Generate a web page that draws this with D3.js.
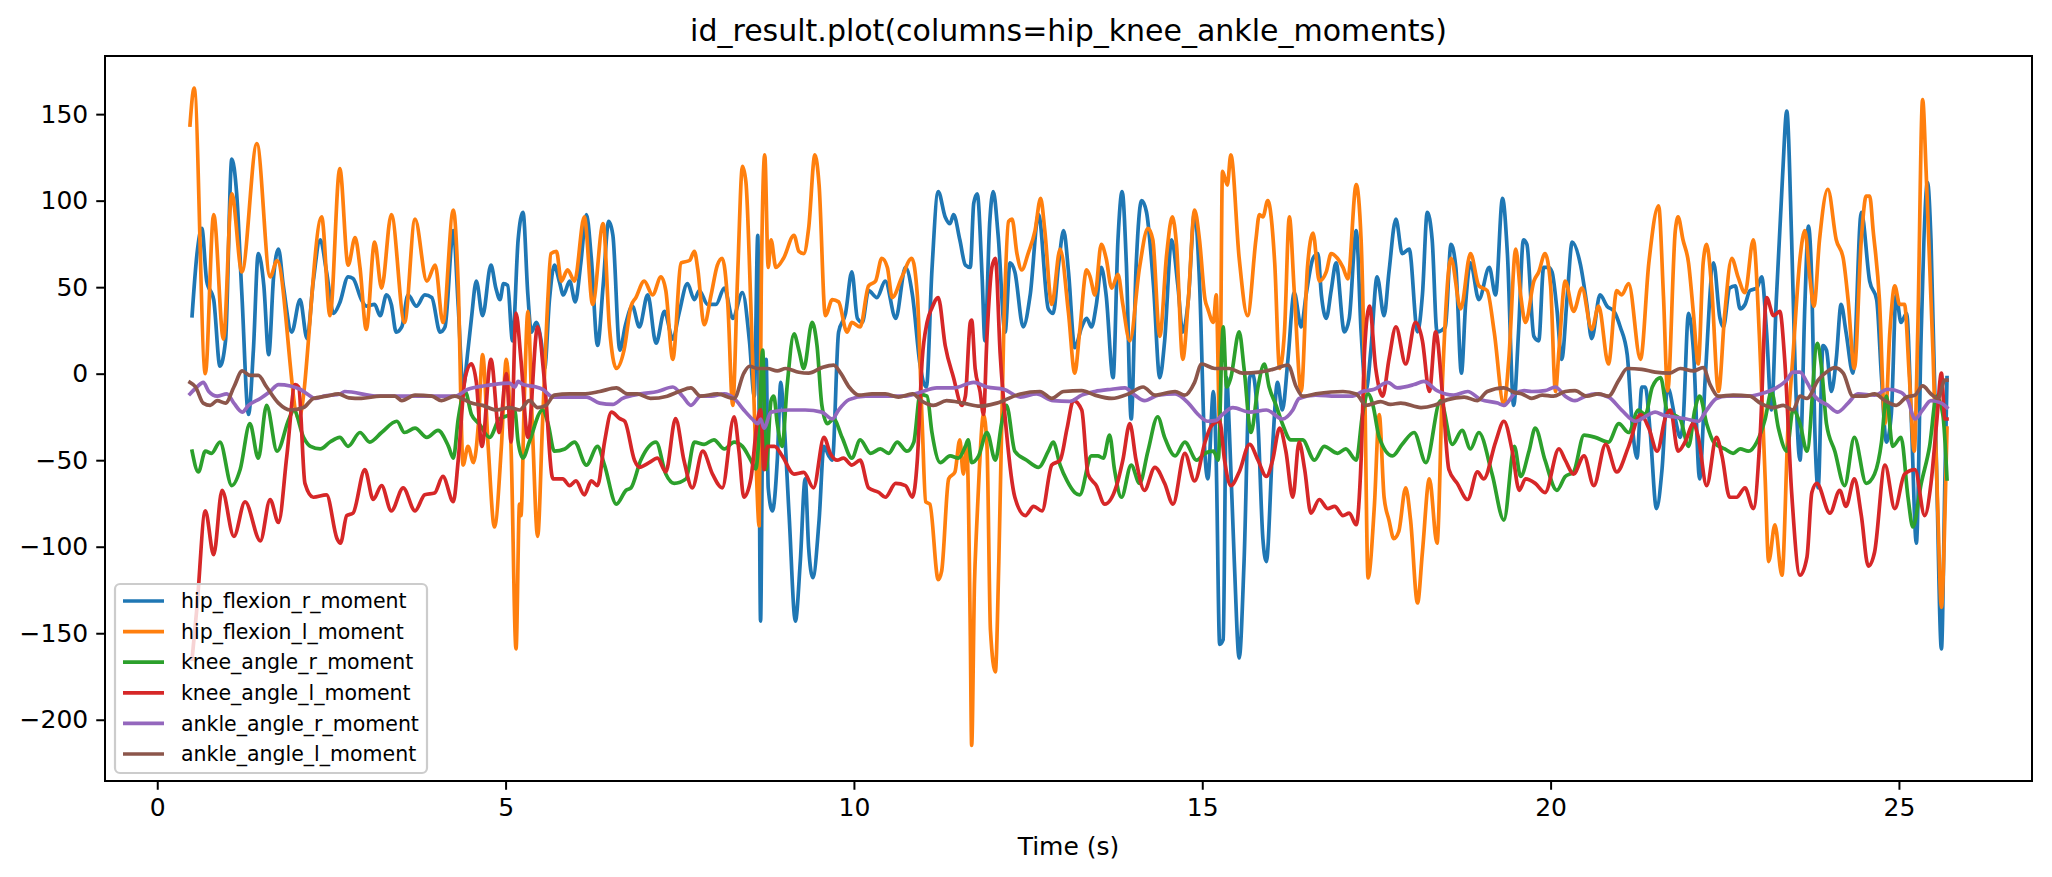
<!DOCTYPE html>
<html><head><meta charset="utf-8">
<style>body{margin:0;background:#fff}svg{display:block}text{font-family:"DejaVu Sans",sans-serif;fill:#000}</style>
</head><body>
<svg id="chart" width="2052" height="877"></svg>
<script src="https://cdn.jsdelivr.net/npm/d3@7"></script>
<script>
const titleText = "id_result.plot(columns=hip_knee_ankle_moments)";
const xLabel = "Time (s)";
const seriesNames = ["hip_flexion_r_moment","hip_flexion_l_moment","knee_angle_r_moment","knee_angle_l_moment","ankle_angle_r_moment","ankle_angle_l_moment"];
const seriesColors = ["#1f77b4","#ff7f0e","#2ca02c","#d62728","#9467bd","#8c564b"];
const xTicks = [0,5,10,15,20,25];
const yTicks = [-200,-150,-100,-50,0,50,100,150];

// [time (s), moment]
const hipFlexionR = [[0.50,33.5],[0.57,69],[0.64,84],[0.71,53.5],[0.81,42.8],[0.90,4.3],[0.98,19],[1.07,124],[1.14,104],[1.215,45.5],[1.31,-23.6],[1.38,13.6],[1.45,69.4],[1.53,50.8],[1.60,11],[1.67,56],[1.74,72],[1.81,50.8],[1.93,24],[2.05,42.8],[2.15,20.3],[2.24,53.5],[2.34,77.4],[2.43,58.8],[2.53,34.9],
[2.62,41],[2.74,56],[2.81,55],[2.93,42.8],[3.0,39],[3.12,40],[3.20,33.5],[3.29,45.5],[3.36,40],[3.43,24],[3.51,27],[3.60,45.5],[3.72,39],[3.84,45.5],[3.94,44],[4.06,24],[4.13,27],[4.25,82.7],[4.32,39],[4.39,-7.7],[4.46,13.6],[4.51,32],
[4.58,53.5],[4.67,33.5],[4.79,62.7],[4.86,49.5],[4.92,42.8],[4.97,52],[5.03,51],[5.10,19],[5.18,77.4],[5.25,93.3],[5.32,45.5],[5.37,24],[5.44,29.6],[5.51,19],[5.56,3],[5.63,42.8],[5.70,62.7],[5.77,53.5],[5.83,45.5],[5.92,53.5],[6.0,41.5],[6.08,64],[6.16,92],[6.23,67],[6.32,16.3],[6.40,50.8],[6.48,88],[6.54,80],[6.64,13.6],
[6.72,28],[6.82,39],[6.92,27],[7.04,45.5],[7.16,17.6],[7.28,36],[7.40,20],[7.49,34.9],[7.61,52],[7.71,42.8],[7.78,48],[7.90,40],[8.02,40],[8.14,49.5],[8.26,32],[8.40,46.8],[8.50,19],[8.57,-13],[8.62,80],[8.66,-143],[8.69,-28.9],[8.74,8.3],[8.77,-66],[8.83,-79.3],[8.90,-50],
[8.95,-5],[8.99,-23.6],[9.07,-82],[9.16,-143],[9.23,-108.6],[9.30,-60.8],[9.35,-100.6],[9.41,-117.9],[9.50,-84.6],[9.57,-42],[9.64,-47.5],[9.69,-50],[9.78,24],[9.88,34.9],[9.97,58.8],[10.05,32],[10.12,29.6],[10.21,48],[10.33,44],[10.45,53.5],[10.60,32],[10.74,61.4],[10.84,45.5],[10.95,5],[11.04,-7.7],[11.12,60],
[11.21,105.3],[11.31,90.6],[11.38,86.7],[11.43,92],[11.52,77.4],[11.60,62.7],[11.67,61.4],[11.72,98.6],[11.77,104],[11.84,56],[11.88,19],[11.95,88],[12.0,105.3],[12.07,80],[12.17,24],[12.24,64],[12.31,58.8],[12.43,27],[12.53,45.5],[12.65,92],[12.79,37.5],[12.86,34.9],[12.94,64],[13.01,82.7],[13.08,58.8],[13.17,15],
[13.27,27],[13.34,32],[13.41,27],[13.48,40],[13.55,61.4],[13.62,45.5],[13.72,-2.3],[13.79,77.4],[13.85,105.3],[13.91,64],[13.98,-26.2],[14.05,61.4],[14.13,100],[14.20,93.3],[14.30,50.8],[14.39,-2.3],[14.46,19],[14.56,77.4],[14.65,50.8],[14.72,24],[14.80,42.8],[14.89,93.3],[14.96,53.5],[15.04,-47.5],[15.08,-60.8],[15.16,-10.3],[15.20,-50],[15.25,-156.4],[15.30,-153.7],[15.35,-2.3],
[15.39,-34],[15.46,-108.6],[15.53,-164.3],[15.60,-108.6],[15.68,-2.3],[15.72,0.3],[15.80,-28.9],[15.87,-95.3],[15.92,-108.6],[16.01,-42],[16.08,-5],[16.15,-21],[16.23,8.3],[16.32,46.8],[16.42,27],[16.49,45.5],[16.59,66.7],[16.66,69.4],[16.71,45.5],[16.78,32],[16.85,48],[16.92,64],[17.04,24.2],[17.11,32],[17.21,82.7],[17.28,24.2],[17.35,-10],
[17.42,13.6],[17.51,56],[17.61,33.5],[17.68,58.8],[17.78,89.3],[17.87,69.4],[17.97,72],[18.09,24.2],[18.16,45.5],[18.23,93.3],[18.30,77.4],[18.37,24.2],[18.49,27],[18.57,74.7],[18.64,61.4],[18.72,0.3],[18.78,40],[18.85,64],[18.97,42.8],[19.12,61.4],[19.21,45.5],[19.31,101.3],[19.38,69.4],[19.47,-18.3],[19.54,24.2],
[19.61,77.4],[19.66,74.7],[19.76,21.6],[19.83,19],[19.90,61.4],[19.97,61.4],[20.02,58.8],[20.09,37.5],[20.16,8.3],[20.24,45.5],[20.31,76],[20.43,62.7],[20.52,40],[20.59,20.3],[20.71,45.5],[20.81,39],[20.91,36],[21.0,27],[21.10,11],[21.17,-28.9],[21.24,-48.8],[21.31,-7.7],[21.36,-7.7],[21.43,-34],[21.52,-78],[21.60,-55],[21.68,-8],
[21.79,-26.2],[21.86,-36.8],[21.90,-28.9],[21.98,34.9],[22.05,13.6],[22.14,-60.8],[22.22,-2.3],[22.34,64],[22.43,32.2],[22.48,27],[22.57,49.5],[22.65,50.8],[22.72,37.5],[22.79,40],[22.86,48],[22.96,49.5],[23.03,56],[23.10,24.2],[23.17,-21],[23.24,42.8],[23.33,114.5],[23.39,151.7],[23.46,77.4],[23.51,3],[23.58,-50],[23.65,40],[23.70,85.3],[23.75,50.8],[23.79,-28.9],[23.84,-66],
[23.91,16.3],[23.96,13.6],[24.03,-10.3],[24.10,8.3],[24.17,40],[24.24,24.2],[24.34,0.3],[24.46,93.3],[24.58,53.5],[24.68,42.8],[24.75,-2.3],[24.82,-39.5],[24.89,-23.6],[24.96,45.5],[25.03,29.6],[25.11,34.9],[25.18,-28.9],[25.25,-98],[25.32,24.2],[25.41,110.6],[25.46,77.4],[25.54,-55.4],[25.61,-159],[25.66,-60.8],[25.69,-2.3]];

const hipFlexionL = [[0.47,143.7],[0.53,165],[0.69,0],[0.81,92],[0.95,20],[1.07,104],[1.215,58.8],[1.43,133],[1.62,56],[1.72,65.4],[2.03,-26],[2.36,90.6],[2.48,33.5],
[2.62,118.5],[2.74,62.7],[2.84,78.7],[2.91,61.4],[3.0,25.6],[3.12,76],[3.22,49.5],[3.36,92],[3.55,29.6],[3.70,89.3],[3.87,53.5],[3.99,62.7],[4.10,29.6],[4.25,94.6],[4.32,51],[4.39,-52.8],[4.46,-42],[4.54,-51.4],[4.61,-29],[4.67,11],
[4.75,-42],[4.84,-88.6],[4.94,-42],[5.01,8.3],[5.08,-44.8],[5.15,-159],[5.20,-75.4],[5.22,-82],[5.27,-13],[5.32,36],[5.39,-36.8],[5.46,-94],[5.53,-28.9],[5.61,45.5],[5.65,69.4],[5.73,70.7],[5.80,53.5],[5.89,60],[5.99,53.5],[6.13,90.6],[6.25,40],[6.40,86.7],[6.49,27],[6.59,3],
[6.70,13.6],[6.80,39],[6.87,44],[6.99,53.5],[7.11,45.5],[7.23,56],[7.30,48],[7.40,8.3],[7.52,64],[7.64,65.4],[7.71,70.7],[7.76,60],[7.85,28.3],[7.95,45.5],[8.04,62.7],[8.11,66.7],[8.19,40],[8.26,-18.3],[8.33,56],[8.40,119.8],[8.45,110.6],[8.52,40],[8.59,-44.8],[8.64,-88],[8.67,51],[8.72,126.5],[8.77,61.4],[8.81,77.4],[8.88,61.4],
[8.99,66.7],[9.14,80],[9.21,70.7],[9.28,69.4],[9.35,84],[9.44,126.5],[9.50,109],[9.59,33.5],[9.69,42.8],[9.78,41.5],[9.90,24],[9.97,29.6],[10.09,27],[10.21,50.8],[10.31,53.5],[10.40,66.7],[10.48,61.4],[10.55,44],[10.69,56],[10.83,66.7],[10.91,45.5],[10.98,-28.9],[11.03,-74],
[11.09,-75.4],[11.21,-119],[11.26,-113.9],[11.36,-60.8],[11.45,-56.8],[11.52,-38.2],[11.57,-58],[11.62,-42],[11.67,-148.4],[11.69,-214.8],[11.73,-121.8],[11.76,-90],[11.80,-55.4],[11.86,-23.6],[11.91,-42],[11.96,-148.4],[12.03,-172.3],[12.08,-108.6],[12.15,24],[12.22,88],[12.27,89.3],[12.34,69.4],[12.41,60],[12.50,69.4],[12.60,82.7],[12.68,101.3],[12.74,82.7],[12.84,40],[12.96,72],[13.08,35],[13.17,0.3],
[13.24,24.2],[13.34,60],[13.39,56],[13.46,45.5],[13.55,74.7],[13.62,66.7],[13.70,49.5],[13.79,57.4],[13.86,40],[13.96,19],[14.10,61.4],[14.22,84],[14.29,77.4],[14.39,21.6],[14.49,69.4],[14.57,90.6],[14.63,74.7],[14.72,8.3],[14.80,42.8],[14.89,94.6],[14.96,77.4],[15.04,42.8],[15.08,37.5],[15.16,29.6],[15.20,45.5],[15.25,-30],[15.29,117],[15.36,109],[15.41,126.5],
[15.53,66.7],[15.65,33.5],[15.77,77.4],[15.82,92],[15.87,90.6],[15.94,100],[16.04,64],[16.11,3],[16.18,24.2],[16.25,90.6],[16.32,48],[16.42,-10.3],[16.51,61.4],[16.59,81.3],[16.68,53.5],[16.78,58.8],[16.85,69.4],[16.94,66.7],[17.02,61.4],[17.09,54.8],[17.21,109.3],[17.28,77.4],[17.33,-2.3],[17.38,-118],
[17.47,-76.7],[17.54,-23.6],[17.61,-71.4],[17.68,-84.6],[17.75,-95.3],[17.82,-91.3],[17.92,-66],[17.99,-84.6],[18.09,-132.5],[18.16,-103.2],[18.26,-60.8],[18.37,-98],[18.45,-2.3],[18.57,66.7],[18.71,37.5],[18.85,69.4],[18.97,50.8],[19.09,48],[19.19,24.2],[19.33,-18.3],[19.40,8.3],[19.50,72],
[19.57,45.5],[19.64,29.6],[19.76,53.5],[19.83,58.8],[19.92,69.4],[20.0,50.8],[20.07,-10.3],[20.12,13.6],[20.21,53.5],[20.33,36],[20.45,49.5],[20.59,25.6],[20.69,39],[20.83,5.6],[20.95,48],[21.02,45.5],[21.12,52],[21.29,8.3],[21.41,64],[21.55,97],[21.62,45],[21.68,-10],
[21.79,82.7],[21.83,90.6],[21.90,77.4],[21.98,64],[22.05,34.9],[22.12,5.6],[22.19,64],[22.24,74.7],[22.31,50.8],[22.41,-10.3],[22.50,34.9],[22.60,66.7],[22.69,56],[22.79,46.8],[22.91,77.4],[23.0,19],[23.08,-60.8],[23.13,-108.6],[23.22,-87.3],[23.32,-116.5],[23.41,-28.9],[23.48,11],[23.58,66.7],[23.65,82.7],[23.72,56],[23.78,39],
[23.86,77.4],[23.98,106.6],[24.10,77.4],[24.20,66.7],[24.27,42.8],[24.36,3],[24.46,77.4],[24.53,102.6],[24.58,102.6],[24.63,82.7],[24.72,42.8],[24.80,-28.9],[24.87,24.2],[24.94,50.8],[25.01,40],[25.08,40],[25.15,-2.3],[25.22,-44.8],[25.27,24.2],[25.34,158.4],[25.39,117.2],[25.49,11],[25.56,-82],[25.61,-135],[25.66,-82],[25.69,-31.5]];

const kneeAngleR = [[0.50,-44.8],[0.59,-56.8],[0.69,-44.8],[0.78,-46],[0.90,-39.5],[1.07,-64.7],[1.19,-55.4],[1.33,-28.9],[1.45,-48.8],[1.57,-18.3],[1.72,-44.8],[1.89,-26.2],[1.96,-21],[2.10,-36.8],[2.20,-42],[2.34,-43.5],[2.48,-39.5],
[2.62,-36.8],[2.74,-42],[2.91,-34],[3.05,-39.5],[3.22,-34],[3.44,-27.5],[3.55,-34],[3.70,-31.5],[3.87,-36.8],[4.03,-32.8],[4.18,-42],[4.25,-48.8],[4.32,-26.2],[4.42,-10.3],[4.51,-23.6],
[4.62,-28.9],[4.77,-36.8],[4.91,-26.2],[5.06,-23.6],[5.13,-21],[5.18,-39.5],[5.25,-48.8],[5.34,-39.5],[5.53,-21],[5.61,-28.9],[5.70,-44.8],[5.85,-43.5],[5.99,-39.5],[6.16,-52.8],[6.32,-42],[6.42,-52.8],[6.59,-75.4],[6.73,-67.4],
[6.80,-66],[6.94,-50],[7.16,-39.5],[7.30,-58],[7.42,-63.4],[7.59,-60.8],[7.71,-39.5],[7.85,-40.8],[7.99,-38.2],[8.14,-43.5],[8.28,-39.5],[8.40,-42],[8.52,-50],[8.59,-55],[8.64,-34],[8.69,13.6],[8.74,-55.4],[8.81,-15.6],
[8.85,-13],[8.90,-28.9],[8.97,-42],[9.04,-7.7],[9.14,23],[9.21,13.6],[9.28,3],[9.40,29.6],[9.47,16.3],[9.54,-18.3],[9.62,-28.9],[9.71,-26.2],[9.83,-36.8],[9.97,-48.8],[10.09,-38.2],[10.24,-46],[10.38,-43.5],[10.50,-46],[10.62,-39.5],[10.76,-44.8],[10.86,-39.5],[10.95,-12],
[11.05,-13],[11.12,-34],[11.24,-51.4],[11.38,-47.5],[11.50,-48.8],[11.60,-42],[11.64,-38.2],[11.69,-51.4],[11.79,-47.5],[11.91,-34],[12.03,-50],[12.12,-28.9],[12.19,-18.3],[12.31,-44.8],[12.48,-50],[12.65,-54.1],[12.79,-44.8],[12.86,-39.5],[12.96,-52.8],[13.06,-62],[13.17,-68.7],
[13.24,-70],[13.41,-47.5],[13.50,-47.5],[13.58,-48.8],[13.67,-35.5],[13.74,-55.4],[13.84,-71.4],[13.98,-52.8],[14.10,-63.4],[14.22,-44.8],[14.36,-24.9],[14.46,-36.8],[14.61,-47.5],[14.75,-39.5],[14.92,-50],[15.04,-46],[15.16,-44.8],[15.23,-50],[15.28,13.6],[15.30,27],[15.35,-7.7],
[15.41,-2.3],[15.53,24.2],[15.60,3],[15.70,-34],[15.80,-7.7],[15.89,5.6],[15.96,-7.7],[16.06,-18.3],[16.15,-28.9],[16.27,-38.2],[16.44,-38.2],[16.61,-50],[16.75,-42],[16.94,-46],[17.06,-43.5],[17.21,-50],[17.30,-23.6],[17.38,-11.7],[17.45,-18.3],
[17.54,-36.8],[17.73,-47.5],[17.87,-40.8],[18.04,-34],[18.21,-51.4],[18.42,-15.6],[18.59,-40.8],[18.73,-32.8],[18.85,-43.5],[18.97,-34],[19.16,-58],[19.33,-84.6],[19.48,-42],[19.57,-59.4],
[19.69,-44.8],[19.78,-31.5],[19.92,-50],[20.09,-67.4],[20.21,-59.4],[20.33,-56.8],[20.48,-35.5],[20.64,-36.8],[20.83,-39.5],[20.98,-28.9],[21.12,-34],[21.26,-21],[21.36,-23.6],[21.46,-7.7],[21.58,-2.3],
[21.67,-21],[21.76,-23.6],[21.86,-26.2],[21.98,-42],[22.07,-21],[22.14,-13],[22.24,-28.9],[22.34,-39.5],[22.50,-43.5],[22.62,-46],[22.72,-43.5],[22.84,-44.8],[22.96,-39.5],[23.08,-26.2],[23.17,-10.3],[23.27,-31.5],[23.39,-44.8],[23.48,-21],[23.58,-28.9],[23.68,-44.8],
[23.83,17.6],[23.89,3],[23.96,-28.9],[24.08,-44.8],[24.22,-64.7],[24.36,-36.8],[24.53,-63.4],[24.65,-58],[24.75,-39.5],[24.82,-13],[24.91,-42],[25.03,-36.8],[25.13,-71.4],[25.20,-88.6],[25.32,-63.4],[25.44,-42],[25.54,-13],[25.63,-23.6],[25.69,-60.8]];

const kneeAngleL = [[0.50,-165],[0.57,-135],[0.69,-79.3],[0.81,-104.6],[0.93,-67.4],[1.10,-94],[1.26,-74],[1.48,-96.6],[1.62,-72.7],[1.74,-86],[1.86,-47.5],[1.98,-6.3],[2.03,-7.7],[2.12,-63.4],[2.24,-71.4],[2.43,-70],[2.58,-95.3],[2.63,-98],
[2.72,-82],[2.81,-80.6],[2.98,-55.4],[3.10,-72.7],[3.22,-64.7],[3.36,-79.3],[3.53,-66],[3.70,-79.3],[3.84,-70],[3.98,-69],[4.10,-59.4],[4.25,-74],[4.32,-50],[4.42,-2.3],[4.51,5.7],[4.58,-5],[4.66,-42],
[4.79,8.3],[4.91,-34],[5.01,0],[5.08,-39.5],[5.15,35],[5.22,8.3],[5.32,-36.8],[5.46,27],[5.56,-5],[5.68,-60.8],[5.82,-60.8],[5.92,-64.7],[6.01,-62],[6.13,-70],[6.23,-62],[6.32,-64.7],[6.42,-39.5],[6.52,-22.2],[6.64,-26],[6.71,-27.5],
[6.85,-50],[6.92,-54],[7.06,-51.4],[7.18,-48.8],[7.30,-56.8],[7.44,-26],[7.56,-50],[7.68,-66],[7.83,-44.8],[7.97,-58],[8.11,-66],[8.28,-24.9],[8.35,-44.8],[8.42,-71.4],[8.52,-60.8],[8.62,-26],[8.66,-20.9],[8.71,-55.4],[8.76,-42],[8.86,-42],
[8.97,-47.5],[9.14,-58],[9.28,-57],[9.42,-66],[9.57,-36.8],[9.66,-46],[9.76,-50],[9.85,-48.8],[9.97,-52.8],[10.09,-50],[10.21,-66],[10.36,-68.7],[10.45,-71.4],[10.60,-63.4],[10.74,-64.7],[10.84,-71.4],[10.91,-50],[10.98,8.3],[11.05,29.6],
[11.12,38],[11.21,44],[11.31,16.3],[11.43,-2.3],[11.55,-18.3],[11.60,-13],[11.67,29.6],[11.69,31],[11.74,3],[11.81,-10.3],[11.86,-23.6],[11.91,21.6],[11.98,61.4],[12.03,66.7],[12.10,11],[12.19,-34],[12.31,-71.4],[12.46,-82],[12.58,-76.7],[12.70,-79.3],[12.84,-52.8],[12.96,-50],[13.06,-31.5],[13.15,-15.6],
[13.27,-21],[13.36,-58],[13.48,-64.7],[13.60,-75.4],[13.77,-64.7],[13.86,-50],[13.96,-28.9],[14.05,-50],[14.17,-67.4],[14.32,-54.1],[14.46,-63.4],[14.58,-75.4],[14.75,-46],[14.89,-62],[15.04,-39.5],[15.13,-30.2],[15.25,-27.5],
[15.32,-50],[15.41,-64.7],[15.53,-56.8],[15.68,-40.8],[15.80,-50],[15.92,-59.4],[16.01,-50],[16.11,-31.5],[16.20,-44.8],[16.30,-71.4],[16.39,-39.5],[16.47,-55.4],[16.56,-80.6],[16.68,-72.7],[16.80,-78],[16.90,-76.7],[17.02,-82],[17.11,-80.6],[17.21,-87.3],[17.28,-50],[17.33,13.6],[17.40,39],
[17.49,3],[17.59,-13],[17.68,8.3],[17.78,27],[17.92,5.6],[18.06,29.6],[18.16,19],[18.26,-10.3],[18.35,24.2],[18.45,-13],[18.54,-55.4],[18.66,-63.4],[18.81,-72.7],[18.95,-56.8],[19.04,-60.8],[19.21,-39.5],[19.33,-27.5],[19.45,-44.8],[19.55,-67.4],
[19.64,-60.8],[19.78,-63.4],[19.92,-68.7],[20.12,-43.5],[20.21,-50],[20.33,-58],[20.48,-47.5],[20.62,-64.7],[20.79,-40.8],[20.95,-56.8],[21.12,-42],[21.29,-23.6],[21.41,-31.5],[21.53,-44.8],[21.65,-25],[21.72,-21],
[21.83,-44.8],[21.93,-39.5],[22.05,-28.9],[22.12,-36.8],[22.24,-64.7],[22.38,-36.8],[22.46,-47.5],[22.57,-71.4],[22.67,-71.4],[22.79,-66],[22.91,-78],[23.01,-34],[23.10,44],[23.20,33.5],[23.29,36],[23.36,8.3],[23.46,-68.7],[23.58,-116.5],[23.68,-106],[23.75,-68.7],[23.82,-63.4],
[24.01,-80.6],[24.15,-67.4],[24.24,-76.7],[24.36,-60.8],[24.46,-82],[24.56,-111.2],[24.65,-103.2],[24.80,-52.8],[24.94,-78],[25.08,-58],[25.23,-55.4],[25.37,-82],[25.46,-63.4],[25.54,-28.9],[25.61,0.3],[25.66,-26.2],[25.69,-26.2]];

const ankleAngleR = [[0.47,-11.7],[0.57,-7.7],[0.66,-5],[0.74,-10.3],[0.86,-13],[1.0,-11.7],[1.10,-17],[1.22,-22.2],[1.31,-18.3],[1.48,-14.3],[1.62,-10.3],[1.74,-6.3],[1.91,-7.1],[2.05,-9],[2.15,-11.7],[2.27,-14.3],[2.39,-13],[2.63,-11.7],
[2.69,-10.3],[3.17,-13],[3.65,-13],[4.13,-13],[4.27,-13],[4.46,-9],[4.70,-7],
[4.82,-6.3],[5.06,-5.5],[5.13,-7.7],[5.18,-4.5],[5.25,-6.3],[5.44,-7.7],[5.53,-9],[5.68,-13.5],[5.92,-13.5],[6.16,-13.5],[6.35,-17],[6.54,-17.7],[6.68,-14.3],
[6.94,-11.7],[7.18,-10.3],[7.40,-7.7],[7.54,-13],[7.66,-18.3],[7.80,-13],[7.95,-13],[8.14,-11.7],[8.28,-14.3],[8.42,-21],[8.54,-26.2],[8.62,-28.9],[8.66,-26.2],[8.71,-31.5],[8.81,-22.2],
[9.07,-21],[9.30,-21],[9.54,-22.2],[9.69,-26.2],[9.78,-21],[9.93,-15],[10.17,-13],[10.45,-13],[10.74,-13],[10.93,-11],
[11.19,-8.2],[11.43,-8.2],[11.72,-5],[11.91,-7.7],[12.15,-9],[12.39,-13.5],[12.62,-11.7],[12.86,-15.6],[13.10,-16],
[13.27,-12.4],[13.46,-10.3],[13.70,-9],[13.89,-8.2],[14.03,-12.4],[14.17,-15.6],[14.37,-12.4],[14.61,-11.7],[14.80,-17],[14.94,-23.6],[15.08,-27.5],[15.20,-27],[15.29,-23.6],
[15.44,-19.6],[15.68,-22.2],[15.92,-21],[16.15,-26.2],[16.30,-21],[16.39,-14.3],[16.63,-12.4],[16.92,-13],[17.16,-13],[17.30,-10.3],
[17.47,-9],[17.66,-5],[17.80,-8.2],[18.04,-6.3],[18.18,-4.5],[18.37,-9.8],[18.61,-12.4],[18.81,-10.3],[19.0,-15],[19.24,-17],[19.33,-18.3],[19.48,-11.7],[19.62,-9.8],
[19.73,-10.3],[19.92,-9.8],[20.07,-7.7],[20.21,-13],[20.35,-15.6],[20.50,-13],[20.64,-11.7],[20.83,-13.5],[21.02,-21],[21.22,-27.5],[21.41,-23.6],[21.50,-22.2],[21.62,-24],
[21.76,-24.9],[21.95,-26.2],[22.12,-27.5],[22.24,-21],[22.38,-14.3],[22.53,-13],[22.81,-13],[23.01,-11.7],[23.24,-8.2],[23.39,-3.7],[23.48,0.9],[23.58,0.9],[23.68,-5],
[23.79,-13],[23.98,-18.3],[24.12,-22.2],[24.27,-17],[24.41,-11.7],[24.65,-12.4],[24.84,-9],[25.03,-10.8],[25.13,-15.6],[25.23,-26.2],[25.34,-21],[25.46,-15.6],[25.61,-17],[25.69,-19.6]];

const ankleAngleL = [[0.47,-5],[0.55,-7.7],[0.66,-17],[0.76,-18.3],[0.86,-15.6],[0.98,-17],[1.10,-7.7],[1.22,1.6],[1.33,-1],[1.45,-1],[1.57,-7.7],[1.74,-17],[1.91,-21],[2.10,-19.6],[2.24,-14.3],[2.43,-13],
[2.60,-11.7],[2.75,-14],[2.93,-14.3],[3.20,-13],[3.41,-13],[3.51,-15.6],[3.70,-12.4],[3.94,-13],[4.08,-15.6],[4.27,-13],[4.37,-14.3],[4.51,-17],
[4.67,-18.3],[4.87,-21],[5.06,-19.6],[5.20,-21],[5.34,-15.6],[5.46,-19.6],[5.58,-18.3],[5.70,-12.4],[5.92,-11.7],[6.11,-11.7],[6.35,-10.3],[6.59,-8.2],[6.75,-11.7],
[6.89,-11.7],[7.08,-14.3],[7.32,-13],[7.49,-10.3],[7.66,-8.2],[7.80,-13],[8.04,-11.7],[8.28,-14.3],[8.42,0.3],[8.50,4.3],[8.62,3],[8.76,3],[8.90,1.6],
[9.02,3],[9.21,0.8],[9.35,0.3],[9.54,3.5],[9.71,5],[9.81,0.3],[9.93,-7.7],[10.07,-12.4],[10.26,-11.7],[10.45,-11.7],[10.64,-13.5],[10.84,-11.7],[10.98,-16],
[11.14,-18.3],[11.33,-15.6],[11.57,-17],[11.81,-18.8],[12.05,-17],[12.39,-11.7],[12.67,-10.3],[12.84,-14.3],[13.01,-10.3],
[13.27,-9.8],[13.46,-12.4],[13.70,-14.3],[13.94,-11.7],[14.15,-7.7],[14.32,-12.4],[14.61,-10.3],[14.75,-12.4],[14.89,-5],[14.99,5.6],[15.18,3],
[15.39,3],[15.58,0.3],[15.82,0.9],[16.01,2.5],[16.23,5],[16.35,-7.7],[16.44,-13],[16.63,-11.7],[17.02,-10.3],[17.21,-11.7],[17.35,-18.3],
[17.56,-16.1],[17.70,-17.7],[17.85,-17],[18.14,-19.6],[18.33,-18.3],[18.52,-15],[18.76,-13.5],[18.95,-15.6],[19.09,-10.3],[19.33,-8.2],[19.48,-10.8],
[19.59,-11.7],[19.73,-14.3],[19.88,-12.4],[20.04,-13],[20.21,-10.3],[20.35,-9.8],[20.52,-13],[20.69,-11.7],[20.83,-13],[20.98,-3.7],[21.10,3],[21.31,2.5],[21.50,0.9],
[21.71,0.3],[21.86,3],[22.05,1.6],[22.19,3.5],[22.29,-6.3],[22.41,-13],[22.62,-12.4],[22.86,-13],[23.01,-17],[23.20,-19.6],[23.34,-18.3],[23.48,-21],[23.58,-13],[23.68,-14.3],
[23.84,-3.7],[23.98,1.6],[24.08,3.5],[24.20,0.3],[24.34,-13],[24.51,-13],[24.65,-11.7],[24.80,-15.6],[24.96,-18.3],[25.11,-13.5],[25.23,-12.4],[25.34,-7.1],[25.46,-11.7],[25.56,-14.3],[25.66,-3.7],[25.69,-3.7]];

const seriesData = [hipFlexionR, hipFlexionL, kneeAngleR, kneeAngleL, ankleAngleR, ankleAngleL];

const svg = d3.select("#chart");
const L = 105, R = 2032, T = 56, B = 781;
const x = d3.scaleLinear().domain([-0.75, 26.91]).range([L, R]);
const y = d3.scaleLinear().domain([-235.4, 183.6]).range([B, T]);

svg.append("rect").attr("width",2052).attr("height",877).attr("fill","#fff");
svg.append("clipPath").attr("id","clip").append("rect").attr("x",L).attr("y",T).attr("width",R-L).attr("height",B-T);

const line = d3.line().x(d => x(d[0])).y(d => y(d[1])).curve(d3.curveMonotoneX);
const plot = svg.append("g").attr("clip-path","url(#clip)");
seriesData.forEach((s, i) => {
  plot.append("path").datum(s).attr("d", line).attr("fill","none")
    .attr("stroke", seriesColors[i]).attr("stroke-width", 3.7)
    .attr("stroke-linejoin","round").attr("stroke-linecap","square");
});

const fmt = d3.format("d");
const xAxis = svg.append("g").attr("transform",`translate(0,${B})`)
  .call(d3.axisBottom(x).tickValues(xTicks).tickFormat(fmt).tickSize(8.75).tickPadding(8));
const yAxis = svg.append("g").attr("transform",`translate(${L},0)`)
  .call(d3.axisLeft(y).tickValues(yTicks).tickFormat(fmt).tickSize(8.75).tickPadding(8));
[xAxis, yAxis].forEach(a => {
  a.select(".domain").remove();
  a.selectAll(".tick line").attr("stroke","#000").attr("stroke-width",2);
  a.selectAll(".tick text").attr("font-family","DejaVu Sans").attr("font-size",25).attr("fill","#000");
});
svg.append("rect").attr("x",L).attr("y",T).attr("width",R-L).attr("height",B-T)
  .attr("fill","none").attr("stroke","#000").attr("stroke-width",2);

svg.append("text").attr("x",(L+R)/2).attr("y",41).attr("text-anchor","middle")
  .attr("font-size",30).text(titleText);
svg.append("text").attr("x",(L+R)/2).attr("y",855).attr("text-anchor","middle")
  .attr("font-size",25).text(xLabel);

// legend
const lg = svg.append("g");
const lgX = 115, lgY = 584, rowH = 30.6, fs = 20.5;
const lgW = 312, lgH = 189;
lg.append("rect").attr("x",lgX).attr("y",lgY).attr("width",lgW).attr("height",lgH)
  .attr("rx",5).attr("fill","#fff").attr("fill-opacity",0.8).attr("stroke","#cccccc").attr("stroke-width",2.2);
seriesNames.forEach((n, i) => {
  const cy = lgY + 17 + i*rowH;
  lg.append("line").attr("x1",lgX+8).attr("x2",lgX+49).attr("y1",cy).attr("y2",cy)
    .attr("stroke",seriesColors[i]).attr("stroke-width",3.7);
  lg.append("text").attr("x",lgX+66).attr("y",cy).attr("dy","0.35em")
    .attr("font-size",fs).text(n);
});
</script>
</body></html>
